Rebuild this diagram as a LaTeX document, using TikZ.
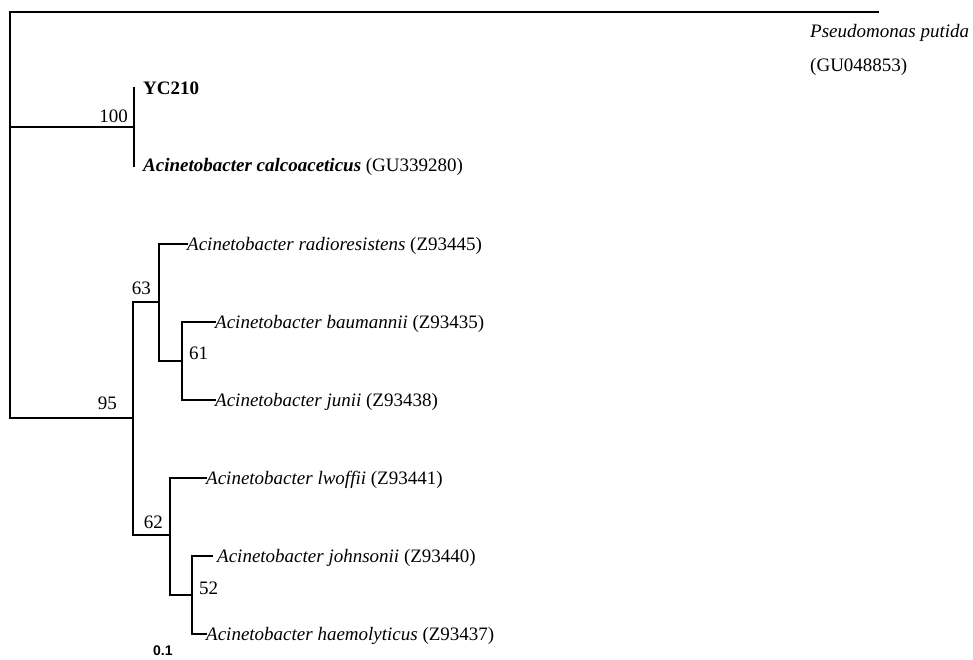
\documentclass[tikz,border=0pt]{standalone}
\usepackage{fontspec}
\setmainfont{Liberation Serif}
\newfontfamily\scalebarfont{Liberation Sans}
\begin{document}
\begin{tikzpicture}[x=1pt,y=-1pt,
  branch/.style={line width=2pt, line cap=rect},
  taxon/.style={anchor=base west, inner sep=0pt, font=\fontsize{19}{22}\selectfont},
  bootval/.style={inner sep=0pt, font=\fontsize{19}{22}\selectfont},
  scaletext/.style={anchor=base west, inner sep=0pt, font=\scalebarfont\bfseries\fontsize{14}{16}\selectfont}
]
\useasboundingbox (0,0) rectangle (973,659);
\fill[white] (0,0) rectangle (973,659);

% ---- tree coordinates ----
\coordinate (rootTop) at (10,12);
\coordinate (root) at (10,418);
\coordinate (ppEnd) at (878,12);
\coordinate (cA) at (10,127);
\coordinate (n100) at (134,127);
\coordinate (yc) at (134,88);
\coordinate (calc) at (134,166);
\coordinate (n95) at (133,418);
\coordinate (n95t) at (133,302);
\coordinate (n95b) at (133,535);
\coordinate (n63) at (159,302);
\coordinate (n63t) at (159,244);
\coordinate (n63b) at (159,361);
\coordinate (rad) at (187,244);
\coordinate (n61) at (182,361);
\coordinate (n61t) at (182,322);
\coordinate (n61b) at (182,400);
\coordinate (bau) at (215,322);
\coordinate (jun) at (215,400);
\coordinate (n62) at (170,535);
\coordinate (n62t) at (170,478);
\coordinate (n62b) at (170,595);
\coordinate (lwo) at (206,478);
\coordinate (n52) at (192,595);
\coordinate (n52t) at (192,556);
\coordinate (n52b) at (192,634);
\coordinate (joh) at (212,556);
\coordinate (hae) at (206,634);

% ---- branches ----
\draw[branch] (ppEnd) -- (rootTop);
\draw[branch] (rootTop) -- (root);
\draw[branch] (root) -- (n95);
\draw[branch] (cA) -- (n100);
\draw[branch] (yc) -- (calc);
\draw[branch] (n95t) -- (n95b);
\draw[branch] (n95t) -- (n63);
\draw[branch] (n63t) -- (n63b);
\draw[branch] (n63t) -- (rad);
\draw[branch] (n63b) -- (n61);
\draw[branch] (n61t) -- (n61b);
\draw[branch] (n61t) -- (bau);
\draw[branch] (n61b) -- (jun);
\draw[branch] (n95b) -- (n62);
\draw[branch] (n62t) -- (n62b);
\draw[branch] (n62t) -- (lwo);
\draw[branch] (n62b) -- (n52);
\draw[branch] (n52t) -- (n52b);
\draw[branch] (n52t) -- (joh);
\draw[branch] (n52b) -- (hae);

% ---- taxon labels ----
\node[taxon] (tPP) at (810,37) {\textit{Pseudomonas putida}};
\node[taxon] (tPPacc) at (810,71) {(GU048853)};
\node[taxon] (tYC) at (143,94) {\textbf{YC210}};
\node[taxon] (tCalc) at (143,171) {\textbf{\textit{Acinetobacter calcoaceticus}} (GU339280)};
\node[taxon] (tRad) at (187,250) {\textit{Acinetobacter radioresistens} (Z93445)};
\node[taxon] (tBau) at (215,328) {\textit{Acinetobacter baumannii} (Z93435)};
\node[taxon] (tJun) at (215,406) {\textit{Acinetobacter junii} (Z93438)};
\node[taxon] (tLwo) at (206,484) {\textit{Acinetobacter lwoffii} (Z93441)};
\node[taxon] (tJoh) at (217,562) {\textit{Acinetobacter johnsonii} (Z93440)};
\node[taxon] (tHae) at (206,640) {\textit{Acinetobacter haemolyticus} (Z93437)};

% ---- bootstrap values ----
\node[bootval, anchor=base east] (b100) at (128,122) {100};
\node[bootval, anchor=base east] (b95) at (117,409) {95};
\node[bootval, anchor=base east] (b63) at (151,294) {63};
\node[bootval, anchor=base west] (b61) at (189,359) {61};
\node[bootval, anchor=base east] (b62) at (163,528) {62};
\node[bootval, anchor=base west] (b52) at (199,594) {52};

% ---- scale ----
\node[scaletext] (scale) at (153,655) {0.1};
\end{tikzpicture}
\end{document}
